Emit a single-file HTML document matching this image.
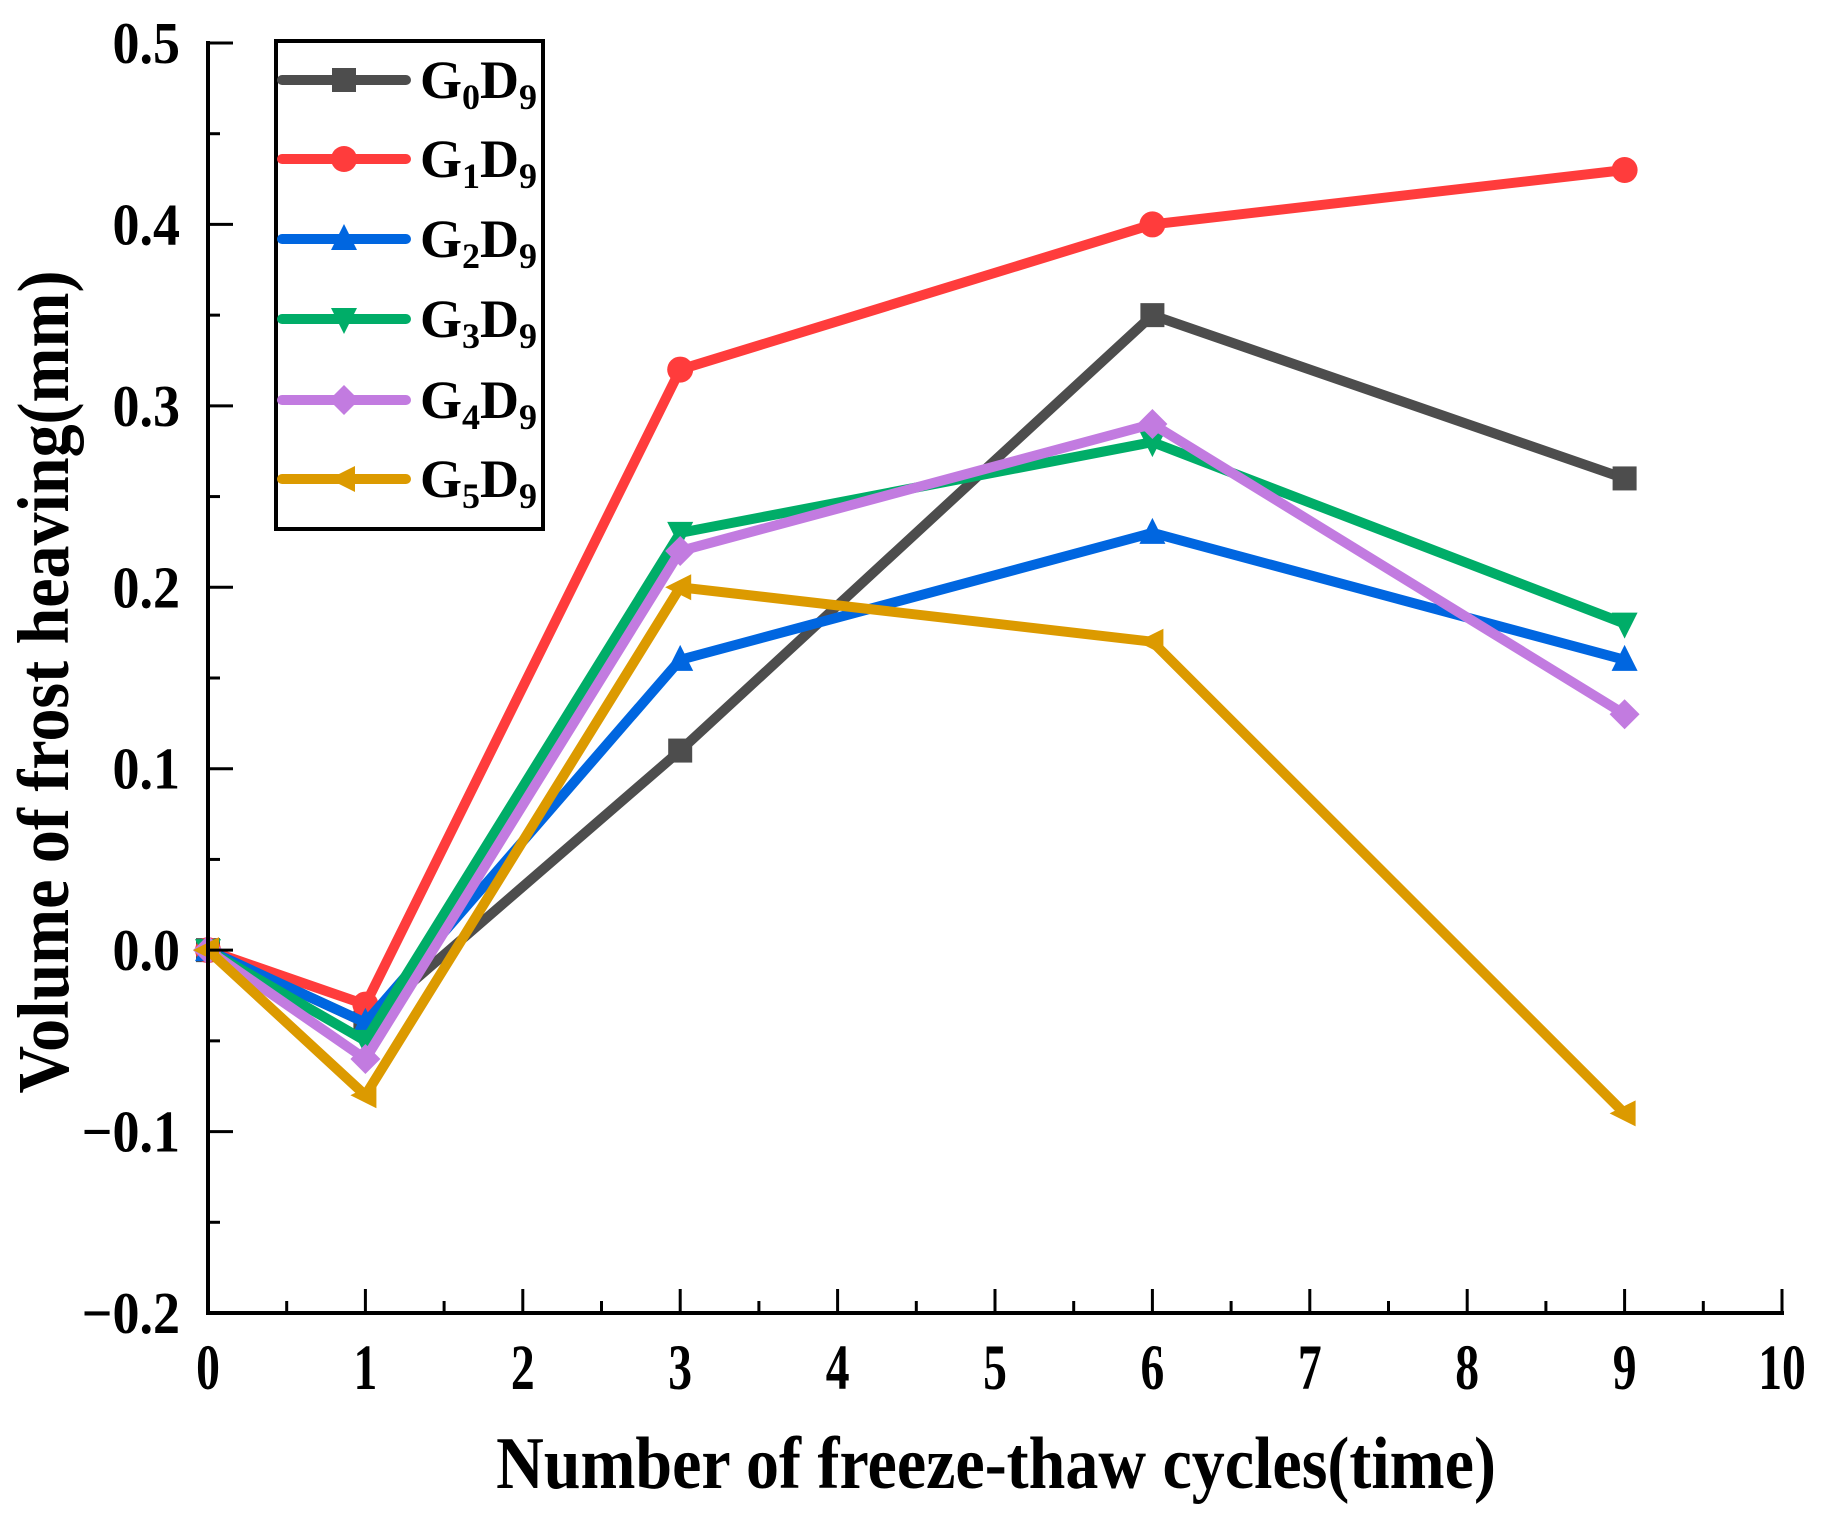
<!DOCTYPE html>
<html><head><meta charset="utf-8"><style>
html,body{margin:0;padding:0;background:#fff}
svg{display:block;font-family:"Liberation Serif",serif;font-weight:bold}
</style></head><body>
<svg id="chart" width="1836" height="1524" viewBox="0 0 1836 1524" xmlns="http://www.w3.org/2000/svg">
<g id="marks"></g>
<g id="axes"></g>
<g id="legend"></g>
<text transform="translate(996,1488) scale(1,1.12)" font-size="66" text-anchor="middle">Number of freeze-thaw cycles(time)</text>
<text transform="translate(68,682) rotate(-90) scale(1,1.1)" font-size="66" text-anchor="middle">Volume of frost heaving(mm)</text>
</svg>
<script>
const xValues = [0, 1, 3, 6, 9];
const seriesNames = ["0", "1", "2", "3", "4", "5"];
const g0 = [0, -0.04, 0.11, 0.35, 0.26];
const g1 = [0, -0.03, 0.32, 0.40, 0.43];
const g2 = [0, -0.04, 0.16, 0.23, 0.16];
const g3 = [0, -0.05, 0.23, 0.28, 0.18];
const g4 = [0, -0.06, 0.22, 0.29, 0.13];
const g5 = [0, -0.08, 0.20, 0.17, -0.09];
const xTicks = [0,1,2,3,4,5,6,7,8,9,10];
const yTicks = [-0.2,-0.1,0.0,0.1,0.2,0.3,0.4,0.5];
const yTickLabels = ["\u22120.2","\u22120.1","0.0","0.1","0.2","0.3","0.4","0.5"];

const NS = "http://www.w3.org/2000/svg";
const X0=208, X1=1782, Y0=1313, Y1=43;
const xs = v => X0 + (v-0)/(10-0)*(X1-X0);
const ys = v => Y0 - (v-(-0.2))/(0.5-(-0.2))*(Y0-Y1);
const colors = ["#4d4d4d","#ff3c3c","#0066e0","#00ad68","#c27be0","#dc9a00"];
const shapes = ["square","circle","up","down","diamond","left"];
const allSeries = [g0,g1,g2,g3,g4,g5];

function mk(tag, attrs, parent){
  const e = document.createElementNS(NS, tag);
  for (const k in attrs) e.setAttribute(k, attrs[k]);
  parent.appendChild(e); return e;
}
function marker(shape, cx, cy, color, parent){
  const s = 12;
  let e;
  if (shape==="square") e = mk("rect",{x:cx-s,y:cy-s,width:2*s,height:2*s,fill:color},parent);
  else if (shape==="circle") e = mk("circle",{cx:cx,cy:cy,r:s+1,fill:color},parent);
  else if (shape==="up") e = mk("polygon",{points:`${cx},${cy-s-3} ${cx+s+1},${cy+s-1} ${cx-s-1},${cy+s-1}`,fill:color},parent);
  else if (shape==="down") e = mk("polygon",{points:`${cx},${cy+s+3} ${cx+s+1},${cy-s+1} ${cx-s-1},${cy-s+1}`,fill:color},parent);
  else if (shape==="diamond") e = mk("polygon",{points:`${cx},${cy-s-3} ${cx+s+3},${cy} ${cx},${cy+s+3} ${cx-s-3},${cy}`,fill:color},parent);
  else e = mk("polygon",{points:`${cx-s-3},${cy} ${cx+s-1},${cy-s-1} ${cx+s-1},${cy+s+1}`,fill:color},parent);
  return e;
}

const marks = document.getElementById("marks");
allSeries.forEach((vals, i) => {
  const g = mk("g",{},marks);
  
  
  const pts = vals.map((v,j)=>xs(xValues[j])+","+ys(v)).join(" ");
  const line = mk("polyline",{points:pts,fill:"none",stroke:colors[i],"stroke-width":10,"stroke-linejoin":"miter"},g);
  
  
  vals.forEach((v,j)=>{
    const m = marker(shapes[i], xs(xValues[j]), ys(v), colors[i], g);
    
    
  });
});

const axes = document.getElementById("axes");
const xl = mk("line",{x1:X0-2,y1:Y0,x2:X1+2,y2:Y0,stroke:"#000","stroke-width":4},axes);


const yl = mk("line",{x1:X0,y1:Y0+2,x2:X0,y2:Y1-2,stroke:"#000","stroke-width":4},axes);


xTicks.forEach((t,i)=>{
  const x = xs(t);
  mk("line",{x1:x,y1:Y0,x2:x,y2:Y0-24,stroke:"#000","stroke-width":3},axes);
  if (i<xTicks.length-1){ const xm = xs(t+0.5); mk("line",{x1:xm,y1:Y0,x2:xm,y2:Y0-12,stroke:"#000","stroke-width":3},axes); }
  const lb = mk("text",{transform:`translate(${x},1389) scale(0.85,1.15)`,"font-size":56,"text-anchor":"middle"},axes);
  lb.textContent = t;
  
  
});
yTicks.forEach((t,i)=>{
  const y = ys(t);
  mk("line",{x1:X0,y1:y,x2:X0+25,y2:y,stroke:"#000","stroke-width":3},axes);
  if (i<yTicks.length-1){ const ym = ys(t+0.05); mk("line",{x1:X0,y1:ym,x2:X0+12,y2:ym,stroke:"#000","stroke-width":3},axes); }
  const lb = mk("text",{transform:`translate(180,${y+20}) scale(1,1.1)`,"font-size":54,"text-anchor":"end"},axes);
  lb.textContent = yTickLabels[i];
  
  
});

const legend = document.getElementById("legend");
const box = mk("rect",{x:276,y:41,width:267,height:488,fill:"#fff",stroke:"#000","stroke-width":4},legend);


const rowY = [80,159,239,319,400,479];
seriesNames.forEach((n,i)=>{
  const g = mk("g",{},legend);
  
  
  const y = rowY[i];
  mk("line",{x1:282,y1:y,x2:406,y2:y,stroke:colors[i],"stroke-width":10,"stroke-linecap":"round"},g);
  marker(shapes[i], 344, y, colors[i], g);
  const t = mk("text",{x:420,y:y+18,"font-size":54},g);
  t.innerHTML = 'G<tspan font-size="36" dy="11">' + n + '</tspan><tspan dy="-11">D</tspan><tspan font-size="36" dy="11">9</tspan>';
});
</script>
</body></html>
